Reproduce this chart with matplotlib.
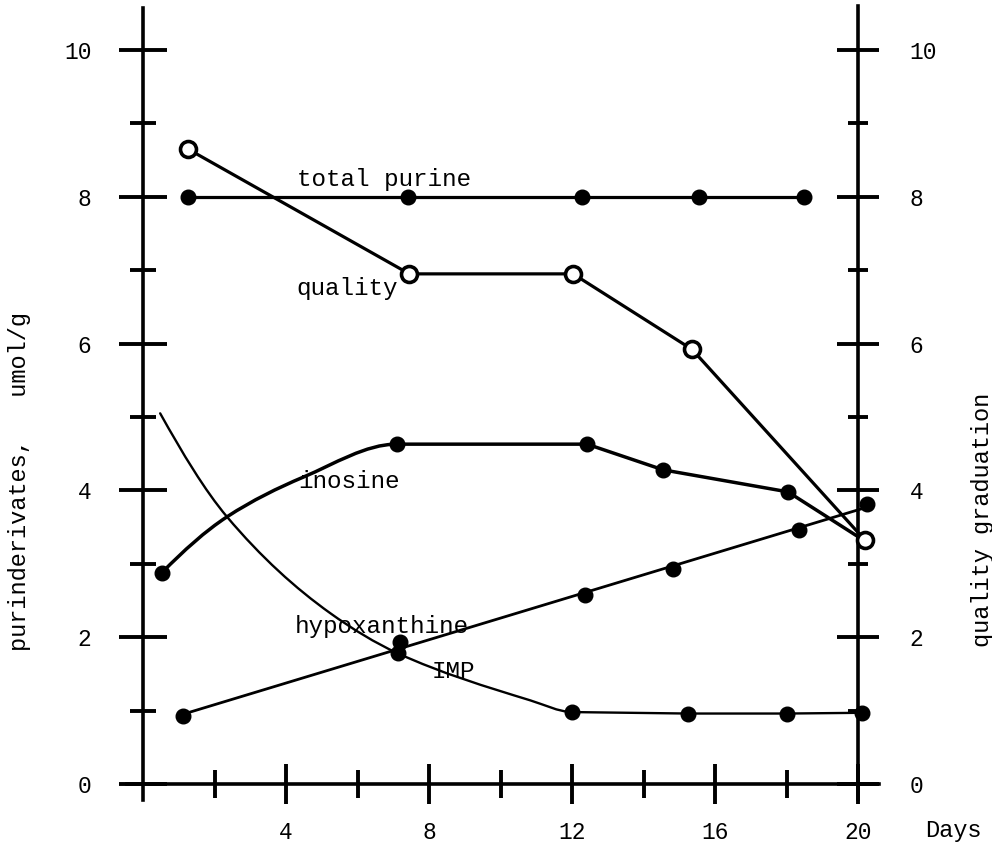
import numpy as np
import matplotlib
matplotlib.use("Agg")
import matplotlib.pyplot as plt
from matplotlib.path import Path
from matplotlib.patches import PathPatch

# ---------------- data ----------------
total_purine_days = [1.26, 7.41, 12.28, 15.55, 18.49]
total_purine_vals = [8.0, 8.0, 8.0, 8.0, 8.0]

quality_days = [1.26, 7.45, 12.03, 15.36, 20.2]
quality_vals = [8.65, 6.95, 6.95, 5.92, 3.32]

inosine_days = [0.53, 2.35, 4.48, 7.1, 12.42, 14.55, 18.04, 20.0]
inosine_vals = [2.88, 3.64, 4.18, 4.63, 4.63, 4.28, 3.98, 3.37]
inosine_marked = [0, 3, 4, 5, 6]
inosine_curved_segments = 3

hypoxanthine_days = [1.12, 7.19, 12.36, 14.83, 18.35, 20.25]
hypoxanthine_vals = [0.92, 1.93, 2.58, 2.93, 3.46, 3.82]

imp_days = [0.48, 2.35, 5.23, 7.13, 10.83, 12.0, 15.24, 18.01, 20.1]
imp_vals = [5.05, 3.64, 2.33, 1.78, 1.14, 0.98, 0.96, 0.96, 0.97]
imp_marked = [3, 5, 6, 7, 8]
imp_curved_segments = 5

x_major_ticks = [4, 8, 12, 16, 20]
x_minor_ticks = [2, 6, 10, 14, 18]
y_major_ticks = [0, 2, 4, 6, 8, 10]
y_minor_ticks = [1, 3, 5, 7, 9]

series_labels = ["total purine", "quality", "inosine", "hypoxanthine", "IMP"]
label_days = [4.31, 4.28, 4.34, 4.25, 8.08]
label_vals = [8.15, 6.66, 4.03, 2.06, 1.44]

# ---------------- layout ----------------
plt.rcParams['font.family'] = ['Liberation Mono', 'DejaVu Sans Mono']
W, H = 992, 847
fig = plt.figure(figsize=(W / 100, H / 100), dpi=100)
X0, PXD = 143.0, 35.75
Y0, PXV = 784.0, 73.4
xlim = (-1.5, 23.0)
ylim = (-0.75, 10.65)
lpx = X0 + xlim[0] * PXD
rpx = X0 + xlim[1] * PXD
bpx = Y0 - ylim[0] * PXV
tpx = Y0 - ylim[1] * PXV
ax = fig.add_axes([lpx / W, 1 - bpx / H, (rpx - lpx) / W, (bpx - tpx) / H])
ax.set_xlim(xlim)
ax.set_ylim(ylim)
ax.patch.set_visible(False)

AXLW = 2.6
for s in ("top", "right"):
    ax.spines[s].set_visible(False)
ax.spines["left"].set_position(("data", 0))
ax.spines["left"].set_bounds(-0.22, 10.57)
ax.spines["bottom"].set_position(("data", 0))
ax.spines["bottom"].set_bounds(-0.45, 20.6)
ax.spines["left"].set_linewidth(AXLW)
ax.spines["bottom"].set_linewidth(AXLW)

ax.set_xticks(x_major_ticks)
ax.set_xticklabels([str(t) for t in x_major_ticks])
ax.set_xticks(x_minor_ticks, minor=True)
ax.set_yticks(y_major_ticks)
ax.set_yticklabels([str(t) for t in y_major_ticks])
ax.set_yticks(y_minor_ticks, minor=True)
ax.tick_params(axis="x", which="major", direction="inout", length=29, width=2.8,
               pad=12, labelsize=16.5)
ax.tick_params(axis="x", which="minor", direction="inout", length=20, width=2.8)
ax.tick_params(axis="y", which="major", direction="inout", length=34, width=2.8,
               pad=20, labelsize=16.5)
ax.tick_params(axis="y", which="minor", direction="inout", length=19, width=2.8)

ax2 = ax.twinx()
ax2.set_ylim(ylim)
for s in ("top", "left", "bottom"):
    ax2.spines[s].set_visible(False)
ax2.spines["right"].set_position(("data", 20))
ax2.spines["right"].set_bounds(-0.2, 10.6)
ax2.spines["right"].set_linewidth(AXLW)
ax2.set_yticks(y_major_ticks)
ax2.set_yticklabels([str(t) for t in y_major_ticks])
ax2.set_yticks(y_minor_ticks, minor=True)
ax2.tick_params(axis="y", which="major", direction="inout", length=30, width=2.8,
                pad=22, labelsize=16.5)
ax2.tick_params(axis="y", which="minor", direction="inout", length=15, width=2.8)


def pchip_slopes(x, y):
    x = np.asarray(x, float)
    y = np.asarray(y, float)
    h = np.diff(x)
    d = np.diff(y) / h
    n = len(x)
    m = np.zeros(n)
    for k in range(1, n - 1):
        if d[k - 1] * d[k] <= 0:
            m[k] = 0.0
        else:
            w1 = 2 * h[k] + h[k - 1]
            w2 = h[k] + 2 * h[k - 1]
            m[k] = (w1 + w2) / (w1 / d[k - 1] + w2 / d[k])
    m0 = ((2 * h[0] + h[1]) * d[0] - h[0] * d[1]) / (h[0] + h[1])
    if np.sign(m0) != np.sign(d[0]):
        m0 = 0.0
    m[0] = m0
    m[-1] = d[-1]
    return m


def smooth_path(xs, ys, n_curved):
    x = np.asarray(xs, float)
    y = np.asarray(ys, float)
    m = pchip_slopes(x, y)
    verts = [(x[0], y[0])]
    codes = [Path.MOVETO]
    for i in range(len(x) - 1):
        if i < n_curved:
            dx = x[i + 1] - x[i]
            c1 = (x[i] + dx / 3, y[i] + m[i] * dx / 3)
            c2 = (x[i + 1] - dx / 3, y[i + 1] - m[i + 1] * dx / 3)
            verts += [c1, c2, (x[i + 1], y[i + 1])]
            codes += [Path.CURVE4] * 3
        else:
            verts.append((x[i + 1], y[i + 1]))
            codes.append(Path.LINETO)
    return Path(verts, codes)


DOT = dict(marker="o", ms=10.5, color="black", linestyle="none", zorder=4)

# total purine
ax.plot(total_purine_days, total_purine_vals, "-", color="black", lw=2.3,
        marker="o", ms=10.5, zorder=3)

# quality (right axis)
ax2.plot(quality_days, quality_vals, "-", color="black", lw=2.3, marker="o",
         ms=11.5, mfc="white", mec="black", mew=2.6, zorder=5)

# inosine
ax.add_patch(PathPatch(smooth_path(inosine_days, inosine_vals, inosine_curved_segments),
                       fill=False, lw=2.5, edgecolor="black", capstyle="round",
                       joinstyle="round"))
ax.plot([inosine_days[i] for i in inosine_marked],
        [inosine_vals[i] for i in inosine_marked], **DOT)

# hypoxanthine (straight trend)
coef = np.polyfit(hypoxanthine_days, hypoxanthine_vals, 1)
hx = np.array([hypoxanthine_days[0], hypoxanthine_days[-1]])
ax.plot(hx, np.polyval(coef, hx), "-", color="black", lw=2.0)
ax.plot(hypoxanthine_days, hypoxanthine_vals, **DOT)

# IMP
ax.add_patch(PathPatch(smooth_path(imp_days, imp_vals, imp_curved_segments),
                       fill=False, lw=1.7, edgecolor="black", capstyle="round",
                       joinstyle="round"))
ax.plot([imp_days[i] for i in imp_marked], [imp_vals[i] for i in imp_marked], **DOT)

for lab, d, v in zip(series_labels, label_days, label_vals):
    ax.text(d, v, lab, fontsize=17.5, ha="left", va="baseline", zorder=6)

fig.text(20 / W, 1 - 481 / H, "purinderivates,   umol/g", rotation=90,
         ha="center", va="center", fontsize=17)
fig.text(982 / W, 1 - 520 / H, "quality graduation", rotation=90,
         ha="center", va="center", fontsize=17)
fig.text(953 / W, 1 - 830 / H, "Days", ha="center", va="center", fontsize=17)

fig.savefig("out.png", dpi=100)
